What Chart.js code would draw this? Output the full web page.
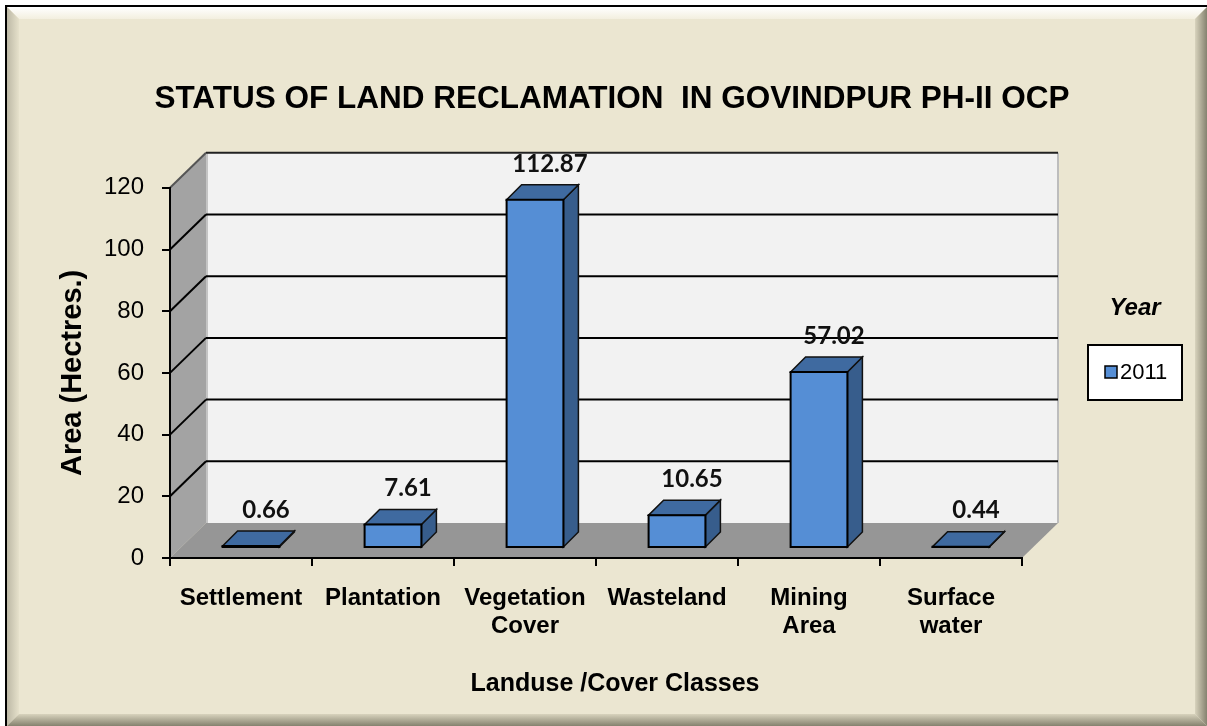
<!DOCTYPE html>
<html>
<head>
<meta charset="utf-8">
<script src="https://cdn.jsdelivr.net/npm/chart.js@4.4.0/dist/chart.umd.min.js"></script>
<style>
  html, body { margin: 0; padding: 0; background: #fff; }
  #wrap { width: 1207px; height: 726px; }
</style>
</head>
<body>
<div id="wrap"><canvas id="chart" width="1207" height="726"></canvas></div>
<script>
const categories = [['Settlement'], ['Plantation'], ['Vegetation', 'Cover'], ['Wasteland'], ['Mining', 'Area'], ['Surface', 'water']];
const area2011 = [0.66, 7.61, 112.87, 10.65, 57.02, 0.44];
const yTicks = [0, 20, 40, 60, 80, 100, 120];
const seriesName = '2011';
const legendTitle = 'Year';
const chartTitle = 'STATUS OF LAND RECLAMATION  IN GOVINDPUR PH-II OCP';
const yTitle = 'Area (Hectres.)';
const xTitle = 'Landuse /Cover Classes';

const SANS = "'Liberation Sans', Arial, sans-serif";
// 3d offsets: back wall, front of bars, depth of bars
const depth = { wx: 36, wy: 35, front: 10, bar: 15 };

function poly(ctx, pts, fill, stroke, lw) {
  ctx.beginPath();
  ctx.moveTo(pts[0][0], pts[0][1]);
  for (let i = 1; i < pts.length; i++) ctx.lineTo(pts[i][0], pts[i][1]);
  ctx.closePath();
  if (fill) { ctx.fillStyle = fill; ctx.fill(); }
  if (stroke) { ctx.strokeStyle = stroke; ctx.lineWidth = lw || 1; ctx.stroke(); }
}

function line(ctx, x1, y1, x2, y2, color, lw) {
  ctx.beginPath();
  ctx.moveTo(x1, y1);
  ctx.lineTo(x2, y2);
  ctx.strokeStyle = color;
  ctx.lineWidth = lw;
  ctx.stroke();
}

const backdrop = {
  id: 'backdrop',
  beforeDraw(chart) {
    const ctx = chart.ctx, W = chart.width, H = chart.height;
    ctx.save();
    ctx.fillStyle = '#fff';
    ctx.fillRect(0, 0, W, H);
    ctx.fillStyle = '#000';
    ctx.fillRect(5, 5, W, H);
    ctx.fillStyle = '#ebe6d1';
    ctx.fillRect(7, 7, W, H);

    // bevel round the frame
    const b = 12;
    let g = ctx.createLinearGradient(0, 7, 0, 7 + b);
    g.addColorStop(0, '#ffffff'); g.addColorStop(1, '#f3efdf');
    poly(ctx, [[7, 7], [W, 7], [W - b, 7 + b], [7 + b, 7 + b]], g);
    g = ctx.createLinearGradient(7, 0, 7 + b, 0);
    g.addColorStop(0, '#bdb9a6'); g.addColorStop(1, '#e6e1cb');
    poly(ctx, [[7, 7], [7 + b, 7 + b], [7 + b, H - b], [7, H]], g);
    g = ctx.createLinearGradient(W - b, 0, W, 0);
    g.addColorStop(0, '#d8d3bd'); g.addColorStop(1, '#85826f');
    poly(ctx, [[W, 7], [W, H], [W - b, H - b], [W - b, 7 + b]], g);
    g = ctx.createLinearGradient(0, H - b, 0, H);
    g.addColorStop(0, '#d8d3bd'); g.addColorStop(1, '#85826f');
    poly(ctx, [[7, H], [W, H], [W - b, H - b], [7 + b, H - b]], g);

    // walls and floor
    const xs = chart.scales.x, ys = chart.scales.y;
    const L = xs.left, R = xs.right;
    const yMax = ys.getPixelForValue(yTicks[yTicks.length - 1]);
    const y0 = ys.getPixelForValue(0);
    const dx = depth.wx, dy = depth.wy;

    ctx.fillStyle = '#f2f2f2';
    ctx.fillRect(L + dx, yMax - dy, R - L, y0 - yMax);
    poly(ctx, [[L, y0], [L, yMax], [L + dx, yMax - dy], [L + dx, y0 - dy]], '#a3a3a3');
    poly(ctx, [[L, y0], [R, y0], [R + dx, y0 - dy], [L + dx, y0 - dy]], '#969696');

    line(ctx, L + dx + 1, yMax - dy, L + dx + 1, y0 - dy, '#c4c4c4', 2);
    line(ctx, R + dx, yMax - dy, R + dx, y0 - dy, '#bdbdbd', 2);

    yTicks.forEach(v => {
      if (v === 0) return;
      const y = ys.getPixelForValue(v);
      const top = v === yTicks[yTicks.length - 1];
      line(ctx, L + dx, y - dy, R + dx, y - dy, top ? '#222' : '#000', 2);
      line(ctx, L, y, L + dx, y - dy, top ? '#555' : '#000', 2);
    });
    ctx.restore();
  },
  afterDatasetsDraw(chart) {
    const ctx = chart.ctx;
    const meta = chart.getDatasetMeta(0);
    const d = depth.bar;
    ctx.save();
    ctx.lineJoin = 'miter';
    meta.data.forEach((bar, i) => {
      const w = bar.width;
      const l = bar.x - w / 2 + depth.front, r = l + w;
      const t = bar.y - depth.front, btm = bar.base - depth.front;
      poly(ctx, [[r, t], [r + d, t - d], [r + d, btm - d], [r, btm]], '#375d8c', '#111', 1.5);
      poly(ctx, [[l, t], [l + d, t - d], [r + d, t - d], [r, t]], '#3f6aa0', '#111', 1.5);
      poly(ctx, [[l, t], [r, t], [r, btm], [l, btm]], '#558ed5', '#000', 2);

      ctx.fillStyle = '#111';
      ctx.font = "bold 24px Lato, 'Open Sans', sans-serif";
      ctx.textAlign = 'center';
      ctx.textBaseline = 'middle';
      ctx.fillText(area2011[i].toFixed(2), bar.x + 25, bar.y - 46);
    });
    ctx.restore();
  },
  afterDraw(chart) {
    const ctx = chart.ctx;
    ctx.save();
    // x axis title sits a little right of the plot centre in the original
    ctx.fillStyle = '#000';
    ctx.textAlign = 'center';
    ctx.textBaseline = 'middle';
    ctx.font = 'bold 25px ' + SANS;
    ctx.fillText(xTitle, 615, 684);

    ctx.font = 'italic bold 24px ' + SANS;
    ctx.fillText(legendTitle, 1135, 308);

    ctx.fillStyle = '#fff';
    ctx.fillRect(1088, 345, 94, 55);
    ctx.strokeStyle = '#000';
    ctx.lineWidth = 2;
    ctx.strokeRect(1088, 345, 94, 55);

    ctx.fillStyle = '#558ed5';
    ctx.fillRect(1105, 366, 12, 12);
    ctx.lineWidth = 1.5;
    ctx.strokeRect(1105, 366, 12, 12);

    ctx.fillStyle = '#000';
    ctx.textAlign = 'left';
    ctx.font = '22px ' + SANS;
    ctx.fillText(seriesName, 1120, 373);
    ctx.restore();
  }
};

new Chart(document.getElementById('chart'), {
  type: 'bar',
  data: {
    labels: categories,
    datasets: [{
      label: seriesName,
      data: area2011,
      backgroundColor: 'rgba(0,0,0,0)',
      borderWidth: 0,
      barPercentage: 0.4,
      categoryPercentage: 1.0
    }]
  },
  options: {
    responsive: false,
    animation: false,
    events: [],
    layout: { padding: { left: 17, right: 0, top: 0, bottom: 0 } },
    plugins: {
      legend: { display: false },
      tooltip: { enabled: false },
      title: {
        display: true,
        text: chartTitle,
        color: '#000',
        font: { family: SANS, size: 31.5, weight: 'bold', lineHeight: 1.2 },
        padding: { top: 80, bottom: 70 }
      }
    },
    scales: {
      x: {
        afterFit(axis) { axis.height = 168; },
        grid: { drawOnChartArea: false, color: '#000', lineWidth: 2, tickLength: 8 },
        border: { display: true, color: '#000', width: 2 },
        ticks: {
          color: '#000',
          autoSkip: false,
          maxRotation: 0,
          padding: 18,
          font: { family: SANS, size: 24, weight: 'bold', lineHeight: 1.17 }
        },
        title: { display: false }
      },
      y: {
        min: 0,
        max: 120,
        afterFit(axis) { axis.width = 153; },
        afterBuildTicks(axis) { axis.ticks = yTicks.map(v => ({ value: v })); },
        grid: { drawOnChartArea: false, color: '#000', lineWidth: 2, tickLength: 8 },
        border: { display: true, color: '#000', width: 2 },
        ticks: {
          color: '#000',
          padding: 18,
          font: { family: SANS, size: 24 }
        },
        title: {
          display: true,
          text: yTitle,
          color: '#000',
          font: { family: SANS, size: 29, weight: 'bold', lineHeight: 1.2 },
          padding: { top: 39, bottom: 0 }
        }
      },
      // empty box on the right that keeps room for the legend
      side: {
        position: 'right',
        display: true,
        afterFit(axis) { axis.width = 185; },
        grid: { display: false },
        border: { display: false },
        ticks: { display: false }
      }
    }
  },
  plugins: [backdrop]
});
</script>
</body>
</html>
